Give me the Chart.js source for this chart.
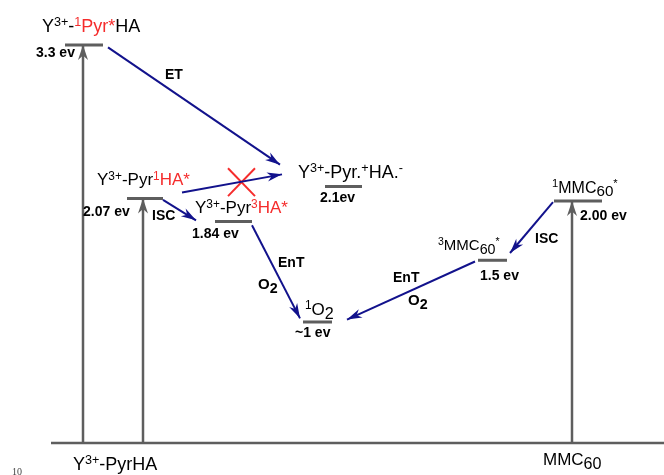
<!DOCTYPE html>
<html>
<head>
<meta charset="utf-8">
<script src="https://cdn.jsdelivr.net/npm/chart.js@4.4.1/dist/chart.umd.min.js"></script>
<style>
  html, body { margin: 0; padding: 0; background: #fff; }
  #box { width: 664px; height: 475px; }
</style>
</head>
<body>
<div id="box"><canvas id="diagram" width="664" height="475"></canvas></div>
<script>
const levelNames  = ['1Pyr*HA', 'Pyr 1HA*', 'Pyr 3HA*', 'Pyr.+HA.-', '1O2', '3MMC60*', '1MMC60*'];
const levelEnergy = [3.29, 2.02, 1.83, 2.12, 1.00, 1.51, 2.00];
const levelStart  = [65, 127, 215, 325, 303, 478, 554];
const levelEnd    = [103, 163, 252, 362, 332, 507, 602];

// 2. Excitation arrows from the ground state (x position, target level)
const pumpX  = [83, 143, 572];
const pumpTo = [0, 1, 6];

// 3. Transfer arrows (ET, blocked ET, ISC, EnT, EnT, ISC): [x, eV]
const transferFrom = [[108, 3.27], [182, 2.07], [163, 2.01], [252, 1.80], [475, 1.50], [553, 1.99]];
const transferTo   = [[280, 2.30], [282, 2.22], [196, 1.84], [300, 1.03], [347, 1.02], [510, 1.57]];

// 4. Red cross over the blocked ET arrow
const crossX = [228, 255];
const crossE = [2.27, 2.04];

// 5. Text labels: parts are [text, flags]  ^ sup, _ sub, r red
const labels = [
    { x: 42,  e: 3.40,  size: 18, parts: [['Y'], ['3+', '^'], ['-'], ['1', '^r'], ['Pyr*', 'r'], ['HA']] },
    { x: 36,  e: 3.19,  size: 14, bold: true, parts: [['3.3 ev']] },
    { x: 165, e: 3.01,  size: 14, bold: true, parts: [['ET']] },
    { x: 97,  e: 2.13,  size: 17, parts: [['Y'], ['3+', '^'], ['-Pyr'], ['1', '^r'], ['HA*', 'r']] },
    { x: 83,  e: 1.88,  size: 14, bold: true, parts: [['2.07 ev']] },
    { x: 152, e: 1.84,  size: 14, bold: true, parts: [['ISC']] },
    { x: 195, e: 1.90,  size: 17, parts: [['Y'], ['3+', '^'], ['-Pyr'], ['3', '^r'], ['HA*', 'r']] },
    { x: 192, e: 1.69,  size: 14, bold: true, parts: [['1.84 ev']] },
    { x: 298, e: 2.19,  size: 18, parts: [['Y'], ['3+', '^'], ['-Pyr.'], ['+', '^'], ['HA.'], ['-', '^']] },
    { x: 320, e: 1.99,  size: 14, bold: true, parts: [['2.1ev']] },
    { x: 305, e: 1.06,  size: 17, parts: [['1', '^'], ['O'], ['2', '_']] },
    { x: 295, e: 0.88,  size: 14, bold: true, parts: [['~1 ev']] },
    { x: 278, e: 1.455, size: 14, bold: true, parts: [['EnT']] },
    { x: 258, e: 1.27,  size: 15, bold: true, parts: [['O'], ['2', '_']] },
    { x: 393, e: 1.33,  size: 14, bold: true, parts: [['EnT']] },
    { x: 408, e: 1.14,  size: 15, bold: true, parts: [['O'], ['2', '_']] },
    { x: 438, e: 1.595, size: 15, parts: [['3', '^'], ['MMC'], ['60', '_'], ['*', '^']] },
    { x: 480, e: 1.35,  size: 14, bold: true, parts: [['1.5 ev']] },
    { x: 552, e: 2.07,  size: 16, parts: [['1', '^'], ['MMC'], ['60', '_'], ['*', '^']] },
    { x: 580, e: 1.84,  size: 14, bold: true, parts: [['2.00 ev']] },
    { x: 535, e: 1.65,  size: 14, bold: true, parts: [['ISC']] },
    { x: 73,  e: -0.22, size: 18, parts: [['Y'], ['3+', '^'], ['-PyrHA']] },
    { x: 543, e: -0.18, size: 17, parts: [['MMC'], ['60', '_']] }
];

const GRAY = '#5e5e5e';
const BLUE = '#12128c';
const RED  = '#f52c2c';

// 6. Build datasets
const datasets = [];

// 6.1 ground line
datasets.push({ data: [{ x: 51, y: 0 }, { x: 664, y: 0 }], borderColor: GRAY, borderWidth: 2.5 });

// 6.2 level bars
levelEnergy.forEach((e, i) => {
    datasets.push({
        data: [{ x: levelStart[i], y: e }, { x: levelEnd[i], y: e }],
        borderColor: GRAY, borderWidth: 3
    });
});

// 6.3 vertical excitation arrows
pumpX.forEach((x, i) => {
    datasets.push({
        data: [{ x: x, y: 0 }, { x: x, y: levelEnergy[pumpTo[i]] }],
        borderColor: GRAY, borderWidth: 2.5, head: { len: 15, half: 5 }
    });
});

// 6.4 transfer arrows
transferFrom.forEach((p, i) => {
    datasets.push({
        data: [{ x: p[0], y: p[1] }, { x: transferTo[i][0], y: transferTo[i][1] }],
        borderColor: BLUE, borderWidth: 2, head: { len: 15, half: 4.5 }
    });
});

// 6.5 red cross
datasets.push({ data: [{ x: crossX[0], y: crossE[0] }, { x: crossX[1], y: crossE[1] }], borderColor: RED, borderWidth: 2 });
datasets.push({ data: [{ x: crossX[0], y: crossE[1] }, { x: crossX[1], y: crossE[0] }], borderColor: RED, borderWidth: 2 });

datasets.forEach(d => {
    d.showLine = true;
    d.pointRadius = 0;
    d.borderCapStyle = 'butt';
    d.clip = false;
});

// 7. Plugin: arrow heads at the end point of each marked dataset
const arrowHeads = {
    id: 'arrowHeads',
    afterDatasetsDraw(chart) {
        const ctx = chart.ctx;
        chart.data.datasets.forEach((ds, i) => {
            if (!ds.head) return;
            const pts = chart.getDatasetMeta(i).data;
            const a = pts[0], b = pts[1];
            const ang = Math.atan2(b.y - a.y, b.x - a.x);
            const L = ds.head.len, W = ds.head.half;
            ctx.save();
            ctx.translate(b.x, b.y);
            ctx.rotate(ang);
            ctx.beginPath();
            ctx.moveTo(0, 0);
            ctx.lineTo(-L, -W);
            ctx.lineTo(-L * 0.7, 0);
            ctx.lineTo(-L, W);
            ctx.closePath();
            ctx.fillStyle = ds.borderColor;
            ctx.fill();
            ctx.restore();
        });
    }
};

// 8. Plugin: rich text labels placed through the scales
const richLabels = {
    id: 'richLabels',
    afterDraw(chart) {
        const ctx = chart.ctx;
        const xs = chart.scales.x, ys = chart.scales.y;
        ctx.save();
        ctx.textBaseline = 'alphabetic';
        labels.forEach(lb => {
            let cx = xs.getPixelForValue(lb.x);
            const y = ys.getPixelForValue(lb.e);
            lb.parts.forEach(([txt, flags = '']) => {
                let s = lb.size, dy = 0;
                if (flags.includes('^')) { s = lb.size * 0.7; dy = -lb.size * 0.32; }
                if (flags.includes('_')) { s = lb.size * 0.95; dy = lb.size * 0.24; }
                ctx.font = (lb.bold ? 'bold ' : '') + s + 'px "Liberation Sans", Arial, sans-serif';
                ctx.fillStyle = flags.includes('r') ? RED : '#000';
                ctx.fillText(txt, cx, y + dy);
                cx += ctx.measureText(txt).width;
            });
        });
        // small page number in the corner
        ctx.font = '10px "Liberation Serif", serif';
        ctx.fillStyle = '#444';
        ctx.fillText('10', xs.getPixelForValue(12), ys.getPixelForValue(-0.262));
        ctx.restore();
    }
};

// 9. Render chart
new Chart(document.getElementById('diagram').getContext('2d'), {
    type: 'scatter',
    data: { datasets: datasets },
    options: {
        responsive: false,
        animation: false,
        layout: { padding: 0 },
        plugins: { legend: { display: false }, tooltip: { enabled: false } },
        scales: {
            x: { type: 'linear', display: false, min: 0, max: 664 },
            y: { type: 'linear', display: false, min: -0.2645, max: 3.661 }
        }
    },
    plugins: [arrowHeads, richLabels]
});
</script>
</body>
</html>
